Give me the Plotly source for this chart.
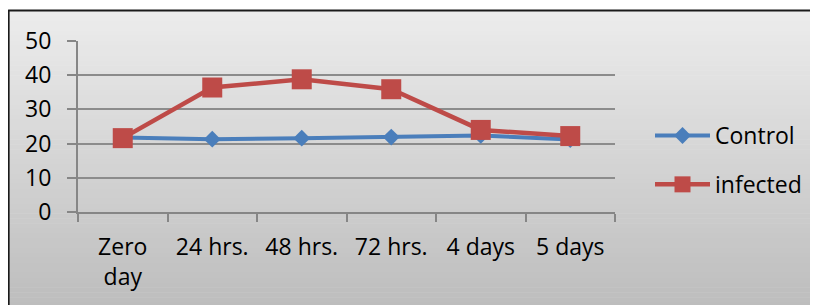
import plotly.graph_objects as go

categories = ["Zero<br>day", "24 hrs.", "48 hrs.", "72 hrs.", "4 days", "5 days"]
control = [21.8, 21.3, 21.6, 21.9, 22.4, 21.2]
infected = [21.6, 36.4, 38.8, 35.9, 24.0, 22.2]
y_ticks = [0, 10, 20, 30, 40, 50]

OFF = 8  # page body margin
W, H = 818 - OFF, 305 - OFF
L, R, T, B = 78 - OFF, 616 - OFF, 41 - OFF, 212 - OFF  # plot area in figure pixels

def px(x):
    return (x - L) / (R - L)

def py(y):
    return (B - y) / (B - T)

FONT = "Open Sans"
FS = 23

fig = go.Figure()
fig.add_trace(go.Scatter(
    x=categories, y=control, name="Control", mode="lines+markers",
    line=dict(color="#4A7EBB", width=4),
    marker=dict(symbol="diamond", size=13, color="#4A7EBB"),
    legendgroup="a",
))
fig.add_trace(go.Scatter(
    x=categories, y=infected, name="infected", mode="lines+markers",
    line=dict(color="#BE4B48", width=4.5),
    marker=dict(symbol="square", size=20, color="#BE4B48"),
    legendgroup="b",
))

shapes = []
# gradient background of the chart frame
n = 60
y0, y1 = 11 - OFF, H + 2
for i in range(n):
    t = i / (n - 1)
    c = int(round(236 - (236 - 189) * t))
    ya = y0 + (y1 - y0) * i / n
    yb = y0 + (y1 - y0) * (i + 1) / n + 0.6
    shapes.append(dict(type="rect", xref="paper", yref="paper",
                       x0=px(0), x1=px(W + 2), y0=py(ya), y1=py(yb),
                       line=dict(width=0), fillcolor=f"rgb({c},{c},{c})", layer="below"))
# frame lines
shapes.append(dict(type="line", xref="paper", yref="paper", x0=px(0.5), x1=px(0.5),
                   y0=py(2), y1=py(H + 2), line=dict(color="#1a1a1a", width=2), layer="below"))
shapes.append(dict(type="line", xref="paper", yref="paper", x0=px(0), x1=px(W + 2),
                   y0=py(2.5), y1=py(2.5), line=dict(color="#1a1a1a", width=2), layer="below"))
shapes.append(dict(type="line", xref="paper", yref="paper", x0=px(W - 1), x1=px(W - 1),
                   y0=py(3), y1=py(H + 2), line=dict(color="#d0d0d0", width=1), layer="below"))

fig.update_layout(
    width=W, height=H,
    margin=dict(l=L, r=W - R, t=T, b=H - B, pad=0),
    paper_bgcolor="white",
    plot_bgcolor="white",
    font=dict(family=FONT, size=FS, color="#000000"),
    shapes=shapes,
    showlegend=True,
    legend=dict(x=px(650 - OFF), y=py(114 - OFF), xanchor="left", yanchor="top",
                bgcolor="rgba(0,0,0,0)", font=dict(size=FS, family=FONT),
                tracegroupgap=16, itemwidth=55),
    xaxis=dict(
        type="category", tickson="boundaries", ticks="outside", ticklen=8,
        tickwidth=2, tickcolor="#868686", showline=True, linecolor="#868686",
        linewidth=2, showgrid=False, ticklabelstandoff=13,
        tickfont=dict(size=FS, family=FONT), range=[-0.5, 5.5],
    ),
    yaxis=dict(
        range=[0, 50], tickvals=y_ticks, ticks="outside", ticklen=9, tickwidth=2,
        tickcolor="#868686", showline=True, linecolor="#868686", linewidth=2,
        showgrid=True, gridcolor="#8c8c8c", gridwidth=1.5, zeroline=False,
        tickfont=dict(size=FS, family=FONT), ticklabelstandoff=11,
    ),
)

fig.write_html("out.html")
